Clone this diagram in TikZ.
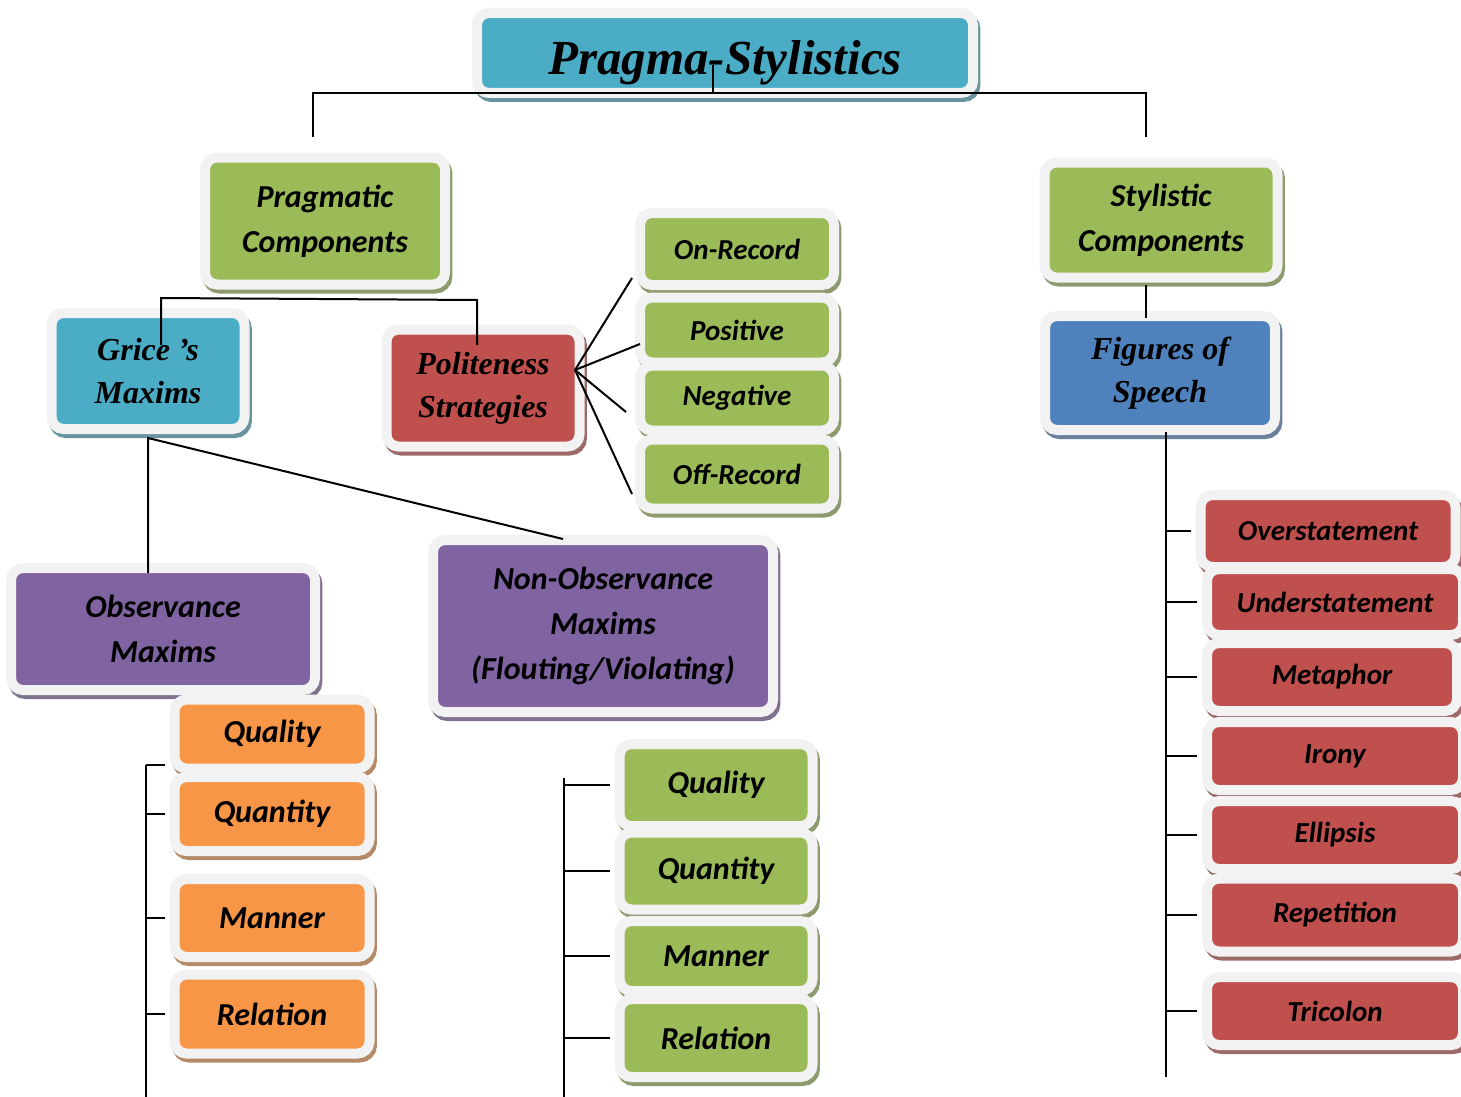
\documentclass[tikz,border=0pt]{standalone}
\usepackage{fontspec}
\setmainfont{Carlito}
\newfontfamily\timesfont{Liberation Serif}
\usepackage{xcolor}
\usetikzlibrary{shadows}
\definecolor{cteal}{HTML}{4BACC6}
\definecolor{cblue}{HTML}{4F81BD}
\definecolor{cgreen}{HTML}{9BBB59}
\definecolor{cred}{HTML}{C0504D}
\definecolor{cpurple}{HTML}{8064A2}
\definecolor{corange}{HTML}{F79646}
\definecolor{crim}{HTML}{F2F2F2}

\begin{document}
\begin{tikzpicture}[x=0.5pt, y=-0.5pt,
  box/.style={fill=#1, draw=crim, line width=5pt, rounded corners=6pt, inner sep=0pt, align=center,
    drop shadow={shadow xshift=1.2pt, shadow yshift=-2pt, fill=#1!45!gray, draw=#1!45!gray, line width=5pt, opacity=1},
    font=\fontsize{16}{22.5}\selectfont\bfseries\itshape},
  serif/.style={font=\timesfont\fontsize{16}{21.5}\selectfont\bfseries\itshape},
  small/.style={font=\fontsize{14.5}{18}\selectfont\bfseries\itshape},
  link/.style={line width=1pt}]

\useasboundingbox (0,0) rectangle (1461,1097);

\node[box=cteal, minimum width=248pt, minimum height=40pt, text height=27pt, text depth=5pt, font=\timesfont\fontsize{24.5}{28}\selectfont\bfseries\itshape] (T) at (725,53) {Pragma-Stylistics};

\node[box=cgreen, minimum width=120pt, minimum height=63.5pt] (PC) at (325,221) {Pragmatic\\Components};
\node[box=cgreen, minimum width=116.5pt, minimum height=57.5pt] (SC) at (1161,220) {Stylistic\\Components};

\node[box=cteal, serif, minimum width=96.5pt, minimum height=58pt] (GM) at (148,371) {Grice ’s\\Maxims};
\node[box=cred, serif, minimum width=96.5pt, minimum height=58.5pt] (PS) at (483,388) {Politeness\\Strategies};
\node[box=cblue, serif, minimum width=115pt, minimum height=57pt] (FS) at (1160,373) {Figures of\\Speech};

\node[box=cgreen, small, minimum width=97pt, minimum height=36pt] (R1) at (737,249) {On-Record};
\node[box=cgreen, small, minimum width=97pt, minimum height=32.5pt] (R2) at (737,330) {Positive};
\node[box=cgreen, small, minimum width=97pt, minimum height=32.5pt] (R3) at (737,398) {Negative};
\node[box=cgreen, small, minimum width=97pt, minimum height=34.5pt] (R4) at (737,474) {Off-Record};

\node[box=cpurple, minimum width=152pt, minimum height=61pt] (OM) at (163,629) {Observance\\Maxims};
\node[box=cpurple, minimum width=170pt, minimum height=86pt] (NM) at (603,626) {Non-Observance\\Maxims\\(Flouting/Violating)};

\node[box=corange, minimum width=97.5pt, minimum height=34.5pt] (O1) at (272,734) {Quality};
\node[box=corange, minimum width=97.5pt, minimum height=37pt] (O2) at (272,814) {Quantity};
\node[box=corange, minimum width=97.5pt, minimum height=39pt] (O3) at (272,918) {Manner};
\node[box=corange, minimum width=97.5pt, minimum height=39.5pt] (O4) at (272,1014) {Relation};

\node[box=cgreen, minimum width=96.5pt, minimum height=41pt] (N1) at (716,785) {Quality};
\node[box=cgreen, minimum width=96.5pt, minimum height=38.5pt] (N2) at (716,871) {Quantity};
\node[box=cgreen, minimum width=96.5pt, minimum height=35pt] (N3) at (716,956) {Manner};
\node[box=cgreen, minimum width=96.5pt, minimum height=39pt] (N4) at (716,1038) {Relation};

\node[box=cred, small, minimum width=127.5pt, minimum height=36pt] (F1) at (1328,531) {Overstatement};
\node[box=cred, small, minimum width=128pt, minimum height=33pt] (F2) at (1335,602) {Understatement};
\node[box=cred, small, minimum width=125pt, minimum height=34pt] (F3) at (1332,677) {Metaphor};
\node[box=cred, small, minimum width=128pt, minimum height=34pt] (F4) at (1335,756) {Irony};
\node[box=cred, small, minimum width=128pt, minimum height=34pt] (F5) at (1335,835) {Ellipsis};
\node[box=cred, small, minimum width=128pt, minimum height=36.5pt] (F6) at (1335,915) {Repetition};
\node[box=cred, small, minimum width=128pt, minimum height=34pt] (F7) at (1335,1011) {Tricolon};

\coordinate (Tstem) at (713,65);
\coordinate (Tbar) at (713,93);
\coordinate (PCtop) at (313,137);
\coordinate (SCtop) at (1146,137);
\draw[link] (Tstem) -- (Tbar);
\draw[link] (PCtop) |- (SCtop |- Tbar) -- (SCtop);

\coordinate (G1) at (161,345);
\coordinate (G2) at (161,298);
\coordinate (P2) at (477,300);
\coordinate (P1) at (477,345);
\draw[link] (G1) -- (G2) -- (P2) -- (P1);

\coordinate (PSr) at (575,370);
\coordinate (R1a) at (632,278);
\coordinate (R2a) at (640,344);
\coordinate (R3a) at (626,412);
\coordinate (R4a) at (632,494);
\foreach \c in {R1a,R2a,R3a,R4a}
  \draw[link] (PSr) -- (\c);

\coordinate (GMb) at (148,438);
\coordinate (OMt) at (148,573);
\coordinate (NMt) at (563,539);
\draw[link] (OMt) -- (GMb) -- (NMt);

\coordinate (SCb) at (1146,285);
\coordinate (FSt) at (1146,318);
\draw[link] (SCb) -- (FSt);

\coordinate (Obar) at (146,765);
\coordinate (Oend) at (146,1097);
\draw[link] (Obar) -- (Oend);
\draw[link, shorten >=2.5pt] (Obar) -- (Obar -| O1.west);
\foreach \n in {O2,O3,O4}
  \draw[link, shorten >=2.5pt] (Obar |- \n.west) -- (\n.west);

\coordinate (Nbar) at (564,778);
\coordinate (Nend) at (564,1097);
\draw[link] (Nbar) -- (Nend);
\foreach \n in {N1,N2,N3,N4}
  \draw[link, shorten >=2.5pt] (Nbar |- \n.west) -- (\n.west);

\coordinate (Fbar) at (1166,432);
\coordinate (Fend) at (1166,1077);
\draw[link] (Fbar) -- (Fend);
\foreach \n in {F1,F2,F3,F4,F5,F6,F7}
  \draw[link, shorten >=2.5pt] (Fbar |- \n.west) -- (\n.west);
\end{tikzpicture}
\end{document}
